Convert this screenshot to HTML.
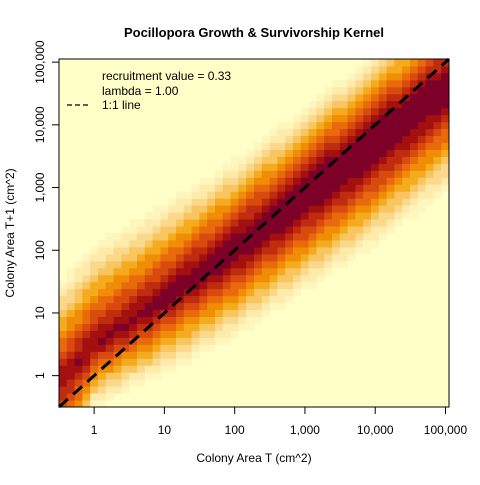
<!DOCTYPE html>
<html><head><meta charset="utf-8"><style>
body{margin:0;background:#fff;}
svg text{font-family:"Liberation Sans",Arial,sans-serif;}
</style></head><body>
<svg id="chart" width="480" height="480" viewBox="0 0 480 480" xmlns="http://www.w3.org/2000/svg">
<rect width="480" height="480" fill="#fff"/>
<g id="cells"></g>
<g id="axes"></g>
<text x="254" y="37" text-anchor="middle" font-size="13" font-weight="bold">Pocillopora Growth &amp; Survivorship Kernel</text>
<text x="254" y="462" text-anchor="middle" font-size="12">Colony Area T (cm^2)</text>
<text x="14" y="233" text-anchor="middle" font-size="12" transform="rotate(-90 14 233)">Colony Area T+1 (cm^2)</text>
<g>
<text x="102" y="80" font-size="12">recruitment value = 0.33</text>
<text x="102" y="95" font-size="12">lambda = 1.00</text>
<line x1="67" y1="105" x2="91" y2="105" stroke="#000" stroke-width="1.2" stroke-dasharray="5,3"/>
<text x="102" y="109" font-size="12">1:1 line</text>
</g>
</svg>
<script>
// data
const logDomain = [-0.5, 5.05];
const nCells = 50;
const tickLogs = [0, 1, 2, 3, 4, 5];
const tickLabels = ["1", "10", "100", "1,000", "10,000", "100,000"];
const knotX = [-0.5, 0, 0.46, 1, 2.05, 3.96, 5.05];
const knotOffset = [0.4, 0.5, 0.35, 0.22, 0.01, -0.25, -0.4];
const knotPeak = [10.9, 11.3, 11.6, 12, 12.8, 13.8, 13];
const knotFalloffUp = [0.16, 0.155, 0.15, 0.14, 0.12, 0.11, 0.12];
const knotFalloffDown = [0.2, 0.1, 0.1, 0.11, 0.12, 0.13, 0.14];
const palette = ['#FFFFC8','#FFF6BE','#FEEAAA','#FBD98C','#F8C560','#F5AB1E','#F08C05','#E86A0C','#D84A0E','#C02C0F','#A3100F','#7C0028'];

const L = 59, R = 449, T = 59, B = 407;
const sx = v => L + (v - logDomain[0]) / (logDomain[1] - logDomain[0]) * (R - L);
const sy = v => B - (v - logDomain[0]) / (logDomain[1] - logDomain[0]) * (B - T);
function interp(xs, ys, x){
  if (x <= xs[0]) return ys[0];
  for (let i = 1; i < xs.length; i++) if (x <= xs[i]) { const t = (x - xs[i-1]) / (xs[i] - xs[i-1]); return ys[i-1] + t * (ys[i] - ys[i-1]); }
  return ys[ys.length - 1];
}
const NS = "http://www.w3.org/2000/svg";
const cells = document.getElementById('cells');
const bg = document.createElementNS(NS, 'rect');
bg.setAttribute('x', L); bg.setAttribute('y', T); bg.setAttribute('width', R - L); bg.setAttribute('height', B - T);
bg.setAttribute('fill', palette[0]);


cells.appendChild(bg);
const step = (logDomain[1] - logDomain[0]) / nCells;
for (let i = 0; i < nCells; i++) {
  const xc = logDomain[0] + (i + 0.5) * step;
  const mu = xc + interp(knotX, knotOffset, xc);
  const peak = interp(knotX, knotPeak, xc);
  const kUp = interp(knotX, knotFalloffUp, xc);
  const kDown = interp(knotX, knotFalloffDown, xc);
  for (let j = 0; j < nCells; j++) {
    const yc = logDomain[0] + (j + 0.5) * step;
    const k = yc > mu ? kUp : kDown;
    let lvl = Math.floor(peak - Math.abs(yc - mu) / k);
    if (lvl > 11) lvl = 11;
    if (lvl <= 0) continue;
    const r = document.createElementNS(NS, 'rect');
    const x0 = sx(logDomain[0] + i * step), x1 = sx(logDomain[0] + (i + 1) * step);
    const y0 = sy(logDomain[0] + (j + 1) * step), y1 = sy(logDomain[0] + j * step);
    r.setAttribute('x', x0); r.setAttribute('y', y0);
    r.setAttribute('width', x1 - x0 + 0.5); r.setAttribute('height', y1 - y0 + 0.5);
    r.setAttribute('fill', palette[lvl]);
    
    
    cells.appendChild(r);
  }
}

const axes = document.getElementById('axes');
function add(tag, attrs, text){ const e = document.createElementNS(NS, tag); for (const k in attrs) e.setAttribute(k, attrs[k]); if (text) e.textContent = text; axes.appendChild(e); return e; }
const diag = add('line', {x1: sx(logDomain[0]), y1: sy(logDomain[0]), x2: sx(logDomain[1]), y2: sy(logDomain[1]), stroke: '#000', 'stroke-width': 3, 'stroke-dasharray': '12,7'});


const frame = add('rect', {x: L, y: T, width: R - L, height: B - T, fill: 'none', stroke: '#000', 'stroke-width': 1});


tickLogs.forEach((v, k) => {
  const tx = add('line', {x1: sx(v), x2: sx(v), y1: B, y2: B + 7, stroke: '#000'});
  
  
  const lx = add('text', {x: sx(v), y: B + 27, 'text-anchor': 'middle', 'font-size': 12}, tickLabels[k]);
  
  
  const ty = add('line', {x1: L - 7, x2: L, y1: sy(v), y2: sy(v), stroke: '#000'});
  
  
  const ly = add('text', {x: 44, y: sy(v), 'text-anchor': 'middle', 'font-size': 12, transform: `rotate(-90 44 ${sy(v)})`}, tickLabels[k]);
  
  
});
</script>
</body></html>
